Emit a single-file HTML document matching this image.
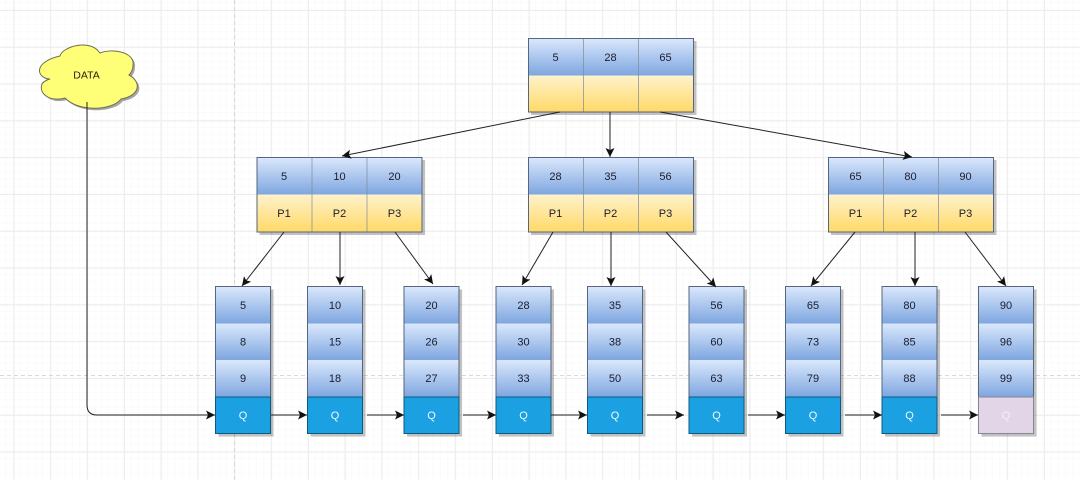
<!DOCTYPE html>
<html><head><meta charset="utf-8"><style>
html,body{margin:0;padding:0;background:#fff;width:1080px;height:480px;overflow:hidden}
svg{display:block;filter:blur(.35px)}
text{font-family:"Liberation Sans",Arial,sans-serif;font-size:11px;text-anchor:middle;fill:#1c1c2c}
.b{fill:url(#blue);stroke:none}
.y{fill:url(#yel);stroke:none}
.q{fill:#1ba1e2;stroke:#0c5a80;stroke-width:1}
.s{fill:#000;opacity:.24}
.f{fill:none;stroke:#56667e;stroke-width:1}
.d{fill:none;stroke:#7f8a98;stroke-width:1;opacity:.7}
.l{fill:none;stroke:#222;stroke-width:1;marker-end:url(#a)}
.w{fill:#f2f8fc}
</style></head><body>
<svg width="1080" height="480" viewBox="0 0 1080 480" xmlns="http://www.w3.org/2000/svg">
<defs>
<linearGradient id="blue" x1="0" y1="0" x2="0" y2="1"><stop offset="0" stop-color="#dae8fc"/><stop offset="1" stop-color="#7ea6e0"/></linearGradient>
<linearGradient id="yel" x1="0" y1="0" x2="0" y2="1"><stop offset="0" stop-color="#fff2cc"/><stop offset="1" stop-color="#ffd966"/></linearGradient>
<pattern id="minor" width="7.36" height="7.36" x="6.14" y="2.6" patternUnits="userSpaceOnUse"><path d="M7.36 0V7.36M0 7.36H7.36" fill="none" stroke="#f7f7f7" stroke-width="1"/></pattern>
<pattern id="major" width="36.8" height="36.8" x="13.5" y="10" patternUnits="userSpaceOnUse"><path d="M0.5 0V36.8M0 0.5H36.8" fill="none" stroke="#ececec" stroke-width="1"/></pattern>
<marker id="a" markerUnits="userSpaceOnUse" markerWidth="12" markerHeight="12" refX="9" refY="5" orient="auto"><path d="M0 0.5L9 5L0 9.500L2 5Z" fill="#111"/></marker>
</defs>
<rect width="1080" height="480" fill="#fff"/>
<rect width="1080" height="480" fill="url(#minor)"/>
<rect width="1080" height="480" fill="url(#major)"/>
<path d="M234.5 0V480M0 375.5H1080" stroke="#d8d8d8" stroke-width="1" stroke-dasharray="4 3" fill="none"/>

<!-- cloud -->
<path transform="translate(2 2)" class="s" style="opacity:.35" d="M60 56C62 47 90 38 100 53C112 48 135 52 133 65C133 70 131 73 129 75C142 82 140 96 121 99C112 111 78 112 65 98C52 102 38 95 42 84C44 81 47 80 50 79C36 78 33 62 60 56Z"/>
<path fill="#ffff77" stroke="#6e6e50" stroke-width="1" d="M60 56C62 47 90 38 100 53C112 48 135 52 133 65C133 70 131 73 129 75C142 82 140 96 121 99C112 111 78 112 65 98C52 102 38 95 42 84C44 81 47 80 50 79C36 78 33 62 60 56Z"/>
<text x="86.500" y="78.500" style="fill:#2a1a10;font-size:10.5px">DATA</text>

<!-- shadows: top boxes -->
<rect class="s" x="531" y="41" width="165.500" height="74"/>
<rect class="s" x="259.500" y="160" width="165.500" height="75"/>
<rect class="s" x="531" y="160" width="165.500" height="75"/>
<rect class="s" x="831" y="160" width="165.500" height="75"/>

<!-- root -->
<rect class="b" x="528.500" y="38.500" width="165" height="37"/>
<rect class="y" x="528.500" y="75.500" width="165" height="36.500"/>
<path class="d" d="M583.500 38.500V112M638.500 38.500V112"/>
<rect class="f" x="528.500" y="38.500" width="165" height="73.500"/>
<text x="555.500" y="61">5</text><text x="610.500" y="61">28</text><text x="665.500" y="61">65</text>

<!-- mid 1 -->
<rect class="b" x="257" y="157.500" width="165" height="37"/>
<rect class="y" x="257" y="194.500" width="165" height="37.500"/>
<path class="d" d="M312 157.500V232M367 157.500V232"/>
<rect class="f" x="257" y="157.500" width="165" height="74.500"/>
<text x="284" y="180">5</text><text x="339.500" y="180">10</text><text x="394.500" y="180">20</text>
<text x="284" y="217">P1</text><text x="339.500" y="217">P2</text><text x="394.500" y="217">P3</text>

<!-- mid 2 -->
<rect class="b" x="528.500" y="157.500" width="165" height="37"/>
<rect class="y" x="528.500" y="194.500" width="165" height="37.500"/>
<path class="d" d="M583.500 157.500V232M638.500 157.500V232"/>
<rect class="f" x="528.500" y="157.500" width="165" height="74.500"/>
<text x="555.500" y="180">28</text><text x="610.500" y="180">35</text><text x="665.500" y="180">56</text>
<text x="555.500" y="217">P1</text><text x="610.500" y="217">P2</text><text x="665.500" y="217">P3</text>

<!-- mid 3 -->
<rect class="b" x="828.500" y="157.500" width="165" height="37"/>
<rect class="y" x="828.500" y="194.500" width="165" height="37.500"/>
<path class="d" d="M883.500 157.500V232M938.500 157.500V232"/>
<rect class="f" x="828.500" y="157.500" width="165" height="74.500"/>
<text x="855.500" y="180">65</text><text x="910.500" y="180">80</text><text x="965.500" y="180">90</text>
<text x="855.500" y="217">P1</text><text x="910.500" y="217">P2</text><text x="965.500" y="217">P3</text>

<!-- leaf shadows -->
<rect class="s" x="218.500" y="289.500" width="55" height="147"/>
<rect class="s" x="310.500" y="289.500" width="55" height="147"/>
<rect class="s" x="407" y="289.500" width="55" height="147"/>
<rect class="s" x="499" y="289.500" width="55" height="147"/>
<rect class="s" x="590.500" y="289.500" width="55" height="147"/>
<rect class="s" x="692" y="289.500" width="55" height="147"/>
<rect class="s" x="788.500" y="289.500" width="55" height="147"/>
<rect class="s" x="885" y="289.500" width="55" height="147"/>
<rect class="s" x="981.500" y="289.500" width="55" height="147"/>

<!-- leaves -->
<g><rect class="b" x="215.500" y="286.500" width="55" height="37"/><rect class="b" x="215.500" y="323.500" width="55" height="36.500"/><rect class="b" x="215.500" y="360" width="55" height="37"/><rect class="f" x="215.500" y="286.500" width="55" height="110.500"/><rect class="q" x="215.500" y="397" width="55" height="36.500"/>
<text x="243" y="309">5</text><text x="243" y="345.500">8</text><text x="243" y="382">9</text><text class="w" x="243" y="419">Q</text></g>
<g><rect class="b" x="307.500" y="286.500" width="55" height="37"/><rect class="b" x="307.500" y="323.500" width="55" height="36.500"/><rect class="b" x="307.500" y="360" width="55" height="37"/><rect class="f" x="307.500" y="286.500" width="55" height="110.500"/><rect class="q" x="307.500" y="397" width="55" height="36.500"/>
<text x="335" y="309">10</text><text x="335" y="345.500">15</text><text x="335" y="382">18</text><text class="w" x="335" y="419">Q</text></g>
<g><rect class="b" x="404" y="286.500" width="55" height="37"/><rect class="b" x="404" y="323.500" width="55" height="36.500"/><rect class="b" x="404" y="360" width="55" height="37"/><rect class="f" x="404" y="286.500" width="55" height="110.500"/><rect class="q" x="404" y="397" width="55" height="36.500"/>
<text x="431.500" y="309">20</text><text x="431.500" y="345.500">26</text><text x="431.500" y="382">27</text><text class="w" x="431.500" y="419">Q</text></g>
<g><rect class="b" x="496" y="286.500" width="55" height="37"/><rect class="b" x="496" y="323.500" width="55" height="36.500"/><rect class="b" x="496" y="360" width="55" height="37"/><rect class="f" x="496" y="286.500" width="55" height="110.500"/><rect class="q" x="496" y="397" width="55" height="36.500"/>
<text x="523.500" y="309">28</text><text x="523.500" y="345.500">30</text><text x="523.500" y="382">33</text><text class="w" x="523.500" y="419">Q</text></g>
<g><rect class="b" x="587.500" y="286.500" width="55" height="37"/><rect class="b" x="587.500" y="323.500" width="55" height="36.500"/><rect class="b" x="587.500" y="360" width="55" height="37"/><rect class="f" x="587.500" y="286.500" width="55" height="110.500"/><rect class="q" x="587.500" y="397" width="55" height="36.500"/>
<text x="615" y="309">35</text><text x="615" y="345.500">38</text><text x="615" y="382">50</text><text class="w" x="615" y="419">Q</text></g>
<g><rect class="b" x="689" y="286.500" width="55" height="37"/><rect class="b" x="689" y="323.500" width="55" height="36.500"/><rect class="b" x="689" y="360" width="55" height="37"/><rect class="f" x="689" y="286.500" width="55" height="110.500"/><rect class="q" x="689" y="397" width="55" height="36.500"/>
<text x="716.500" y="309">56</text><text x="716.500" y="345.500">60</text><text x="716.500" y="382">63</text><text class="w" x="716.500" y="419">Q</text></g>
<g><rect class="b" x="785.500" y="286.500" width="55" height="37"/><rect class="b" x="785.500" y="323.500" width="55" height="36.500"/><rect class="b" x="785.500" y="360" width="55" height="37"/><rect class="f" x="785.500" y="286.500" width="55" height="110.500"/><rect class="q" x="785.500" y="397" width="55" height="36.500"/>
<text x="813" y="309">65</text><text x="813" y="345.500">73</text><text x="813" y="382">79</text><text class="w" x="813" y="419">Q</text></g>
<g><rect class="b" x="882" y="286.500" width="55" height="37"/><rect class="b" x="882" y="323.500" width="55" height="36.500"/><rect class="b" x="882" y="360" width="55" height="37"/><rect class="f" x="882" y="286.500" width="55" height="110.500"/><rect class="q" x="882" y="397" width="55" height="36.500"/>
<text x="909.500" y="309">80</text><text x="909.500" y="345.500">85</text><text x="909.500" y="382">88</text><text class="w" x="909.500" y="419">Q</text></g>
<g><rect class="b" x="978.500" y="286.500" width="55" height="37"/><rect class="b" x="978.500" y="323.500" width="55" height="36.500"/><rect class="b" x="978.500" y="360" width="55" height="37"/><rect class="f" x="978.500" y="286.500" width="55" height="110.500"/><rect x="978.500" y="397" width="55" height="36.500" fill="#e1d5e7" stroke="#8a8590"/>
<text x="1006" y="309">90</text><text x="1006" y="345.500">96</text><text x="1006" y="382">99</text><text x="1006" y="419" style="fill:#f4f0f6">Q</text></g>

<!-- connectors -->
<path class="l" d="M560 112L342 156"/>
<path class="l" d="M610 112V157"/>
<path class="l" d="M660 112L912 157"/>
<path class="l" d="M284 232L242 286"/>
<path class="l" d="M340 232V285"/>
<path class="l" d="M395 232L433 284"/>
<path class="l" d="M553 232L522 285"/>
<path class="l" d="M611 232V286"/>
<path class="l" d="M666 232L716 287"/>
<path class="l" d="M855 232L811 286"/>
<path class="l" d="M915 232V286"/>
<path class="l" d="M965 232L1006 286"/>
<path class="l" d="M87 102V405Q87 415 97 415H215"/>
<path class="l" d="M271 415H307"/>
<path class="l" d="M367 415H404"/>
<path class="l" d="M463 415H496"/>
<path class="l" d="M551 415H587"/>
<path class="l" d="M647 415H684"/>
<path class="l" d="M748 415H785"/>
<path class="l" d="M845 415H882"/>
<path class="l" d="M941 415H978"/>
</svg>
</body></html>
